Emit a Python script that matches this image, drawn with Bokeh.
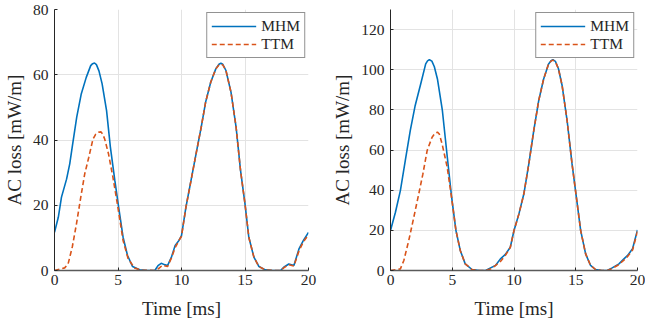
from bokeh.plotting import figure
from bokeh.layouts import row
from bokeh.models import Range1d, FixedTicker, Legend, LegendItem
from bokeh.embed import file_html
from bokeh.resources import INLINE

# ---------------- data ----------------
# Left panel
left_mhm_t = [0, 0.3, 0.55, 0.95, 1.2, 1.45, 1.75, 2.1, 2.5, 2.85, 3.0, 3.15, 3.3, 3.5, 3.75, 4.1, 4.4,
              4.75, 5.05, 5.4, 5.75, 6.15, 6.7, 7.3, 7.9, 8.15, 8.4, 8.65, 8.9, 9.2, 9.5, 9.8,
              10.0, 10.35, 10.75, 11.15, 11.55, 11.9, 12.3, 12.7, 12.95, 13.1, 13.25, 13.5, 13.9, 14.3, 14.65,
              15.0, 15.3, 15.7, 16.1, 16.6, 17.2, 17.8, 18.05, 18.45, 18.85, 19.25, 19.6, 20.0]
left_mhm_v = [11.7, 16.3, 22.5, 28.0, 32.7, 39.3, 47.0, 54.0, 59.2, 62.8, 63.4, 63.6, 63.1, 61.2, 57.2, 49.0, 37.8,
              27.6, 19.4, 10.2, 4.6, 1.2, 0.2, 0.0, 0.0, 1.5, 2.2, 1.8, 1.5, 4.0, 7.7, 9.2,
              10.7, 19.4, 27.6, 35.8, 43.9, 51.6, 57.7, 61.8, 63.2, 63.5, 63.2, 61.3, 54.6, 43.9, 30.6,
              20.4, 10.2, 4.1, 1.2, 0.2, 0.0, 0.0, 1.0, 2.0, 1.5, 6.6, 9.2, 11.7]
left_ttm_t = [0, 0.8, 1.07, 1.4, 1.73, 2.07, 2.38, 2.7, 3.03, 3.25, 3.45, 3.65, 3.8, 3.95, 4.25, 4.6, 4.95,
              5.4, 5.8, 6.3, 6.8, 7.9, 8.2, 8.5, 8.9, 9.2, 9.5, 9.8,
              10.0, 10.35, 10.75, 11.15, 11.55, 11.9, 12.3, 12.7, 12.95, 13.1, 13.25, 13.5, 13.9, 14.3, 14.65,
              15.0, 15.3, 15.7, 16.1, 16.6, 17.2, 17.8, 18.05, 18.45, 18.85, 19.25, 19.6, 20.0]
left_ttm_v = [0.0, 0.8, 2.0, 7.2, 14.3, 22.5, 29.6, 34.7, 40.3, 41.8, 42.4, 42.5, 41.8, 40.3, 35.8, 28.6, 20.4,
              9.2, 3.6, 0.8, 0.1, 0.0, 0.6, 1.6, 1.2, 3.8, 7.0, 9.2,
              10.5, 19.4, 27.6, 35.8, 43.9, 51.6, 57.7, 61.8, 63.0, 63.3, 63.0, 61.3, 54.6, 43.9, 30.6,
              20.4, 10.2, 4.1, 1.2, 0.2, 0.0, 0.0, 0.8, 1.8, 1.4, 6.0, 8.8, 11.0]

# Right panel
right_mhm_t = [0, 0.4, 0.8, 1.2, 1.6, 2.0, 2.45, 2.85, 3.0, 3.15, 3.35, 3.55, 3.8, 4.2, 4.6, 4.95, 5.3, 5.65,
               6.05, 6.6, 7.2, 7.7, 8.1, 8.5, 8.9, 9.3, 9.7, 10.0, 10.4, 10.8, 11.2, 11.6, 12.0,
               12.4, 12.8, 13.0, 13.15, 13.35, 13.6, 13.9, 14.3, 14.7, 15.05, 15.4, 15.8, 16.2, 16.6, 17.1,
               17.55, 17.95, 18.5, 18.9, 19.2, 19.6, 20.0]
right_mhm_v = [19.9, 29.0, 39.8, 54.8, 69.7, 82.2, 93.0, 102.9, 104.4, 105.0, 104.3, 101.5, 95.4, 79.7, 56.4, 36.5,
               19.9, 10.0, 3.3, 0.5, 0.0, 0.0, 1.3, 2.5, 5.8, 8.0, 11.6, 19.9, 28.2, 38.2, 53.1,
               69.7, 84.6, 95.4, 102.9, 104.5, 105.0, 104.2, 100.5, 92.0, 74.7, 53.1, 36.5, 19.9, 8.3, 2.5, 0.5,
               0.0, 0.0, 1.3, 3.3, 5.8, 7.5, 10.8, 20.2]
right_ttm_t = [0, 0.8, 1.08, 1.48, 1.89, 2.29, 2.62, 2.97, 3.37, 3.6, 3.8, 3.95, 4.18, 4.59, 4.94, 5.3, 5.65,
               6.05, 6.6, 7.2, 7.7, 8.2, 8.9, 9.3, 9.7, 10.0, 10.4, 10.8, 11.2, 11.6, 12.0,
               12.4, 12.8, 13.0, 13.15, 13.35, 13.6, 13.9, 14.3, 14.7, 15.05, 15.4, 15.8, 16.2, 16.6, 17.1,
               17.55, 17.95, 18.5, 18.9, 19.2, 19.6, 20.0]
right_ttm_v = [0.0, 0.8, 5.0, 15.0, 26.6, 38.2, 48.0, 59.8, 66.4, 68.3, 68.9, 68.0, 63.0, 51.5, 36.5, 19.9, 10.0,
               3.3, 0.5, 0.0, 0.0, 1.0, 4.5, 7.5, 11.5, 19.9, 28.2, 38.2, 53.1,
               69.7, 84.6, 95.4, 102.9, 104.3, 104.8, 104.0, 100.5, 92.0, 74.7, 53.1, 36.5, 19.9, 8.3, 2.5, 0.5,
               0.0, 0.0, 1.0, 3.0, 5.2, 7.0, 10.2, 19.5]

x_ticks = [0, 5, 10, 15, 20]
left_y_ticks = [0, 20, 40, 60, 80]
right_y_ticks = [0, 20, 40, 60, 80, 100, 120]
series_names = ["MHM", "TTM"]
x_label = "Time [ms]"
y_label = "AC loss [mW/m]"

# ---------------- styling ----------------
FONT = "Liberation Serif"
BLUE = "#0072BD"
ORANGE = "#D95319"
DARK = "#262626"
GRID = "#e3e3e3"


def make_panel(width, border_left, border_right, ymax, yticks,
               mt, mv, tt, tv, legend_margin, ylabel_standoff):
    p = figure(width=width, height=323,
               x_range=Range1d(0, 20), y_range=Range1d(0, ymax),
               output_backend="svg", toolbar_location=None,
               min_border_left=border_left, min_border_right=border_right,
               min_border_top=9, min_border_bottom=53)
    p.outline_line_color = None
    p.background_fill_color = "white"
    p.border_fill_color = "white"

    r1 = p.line(mt, mv, line_color=BLUE, line_width=1.6)
    r2 = p.line(tt, tv, line_color=ORANGE, line_width=1.6, line_dash="5 3")

    p.xaxis.ticker = FixedTicker(ticks=x_ticks)
    p.yaxis.ticker = FixedTicker(ticks=yticks)
    for ax in (p.xaxis[0], p.yaxis[0]):
        ax.major_tick_in = 3
        ax.major_tick_out = 0
        ax.minor_tick_line_color = None
        ax.major_tick_line_color = DARK
        ax.axis_line_color = DARK
        ax.major_label_text_font = FONT
        ax.major_label_text_font_size = "15.5px"
        ax.major_label_text_color = DARK
        ax.axis_label_text_font = FONT
        ax.axis_label_text_font_size = "19px"
        ax.axis_label_text_font_style = "normal"
        ax.axis_label_text_color = DARK
    p.xaxis.axis_label = x_label
    p.yaxis.axis_label = y_label
    p.xaxis.major_label_standoff = 4
    p.xaxis.axis_label_standoff = 10
    p.yaxis.major_label_standoff = 6
    p.yaxis.axis_label_standoff = ylabel_standoff
    p.xaxis.axis_line_color = "#5a5a5a"
    p.xaxis.axis_line_width = 1.5

    p.xgrid.grid_line_color = GRID
    p.ygrid.grid_line_color = GRID
    p.xgrid.ticker = FixedTicker(ticks=x_ticks)
    p.ygrid.ticker = FixedTicker(ticks=yticks)

    legend = Legend(items=[LegendItem(label=series_names[0], renderers=[r1]),
                           LegendItem(label=series_names[1], renderers=[r2])],
                    location="top_right")
    legend.margin = legend_margin
    legend.padding = 4
    legend.spacing = 0
    legend.glyph_width = 45
    legend.glyph_height = 18
    legend.label_height = 18
    legend.label_standoff = 5
    legend.label_text_font = FONT
    legend.label_text_font_size = "15.5px"
    legend.label_text_color = DARK
    legend.border_line_color = DARK
    legend.border_line_width = 1
    legend.background_fill_color = "white"
    legend.background_fill_alpha = 1.0
    p.add_layout(legend)
    return p


p1 = make_panel(320, 53, 12, 80, left_y_ticks,
                left_mhm_t, left_mhm_v, left_ttm_t, left_ttm_v, 3, 5)
p2 = make_panel(325, 70, 8, 130, right_y_ticks,
                right_mhm_t, right_mhm_v, right_ttm_t, right_ttm_v, 3, 5)

layout = row(p1, p2, spacing=0)

open("out.html", "w").write(file_html(layout, INLINE))
